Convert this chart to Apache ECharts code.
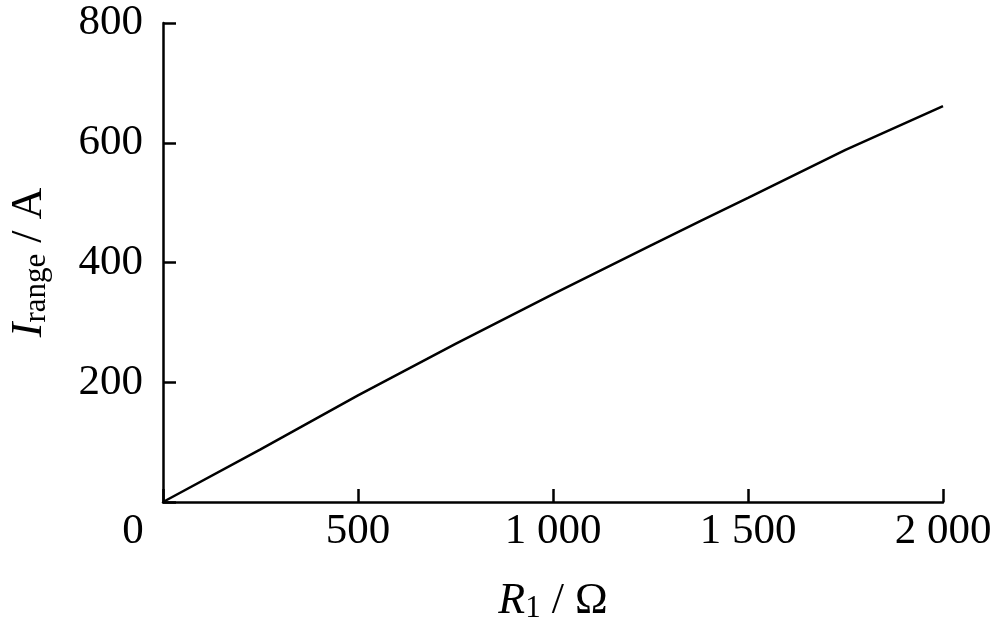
<!DOCTYPE html>
<html>
<head>
<meta charset="utf-8">
<script src="https://cdn.jsdelivr.net/npm/echarts@6/dist/echarts.min.js"></script>
<style>html,body{margin:0;padding:0;background:#fff}#c{width:1000px;height:635px}</style>
</head>
<body>
<div id="c"></div>
<script>
const resistance = [0, 250, 500, 750, 1000, 1250, 1380, 1500, 1750, 2000];
const currentRange = [0, 88, 178, 264, 347, 428, 470, 508, 588, 661];
const xTicks = [0, 500, 1000, 1500, 2000];
const yTicks = [0, 200, 400, 600, 800];

const FONT = '"Liberation Serif", "DejaVu Serif", serif';
const chart = echarts.init(document.getElementById('c'), null, {renderer: 'canvas'});
const fmtThousands = v => {
  const s = String(v);
  return s.length > 3 ? s.slice(0, s.length - 3) + ' ' + s.slice(-3) : s;
};
chart.setOption({
  backgroundColor: '#fff',
  animation: false,
  grid: {left: 163, right: 57, top: 23, bottom: 133, containLabel: false, outerBoundsMode: 'none'},
  xAxis: {
    type: 'value', min: xTicks[0], max: xTicks[xTicks.length - 1], interval: 500,
    axisLine: {lineStyle: {color: '#000', width: 2.5}},
    axisTick: {inside: true, length: 13, lineStyle: {color: '#000', width: 2.5}},
    splitLine: {show: false},
    axisLabel: {
      color: '#000', fontFamily: FONT, fontSize: 43, margin: 8,
      formatter: v => v === 0 ? '{z|0}' : fmtThousands(v),
      rich: {z: {fontFamily: FONT, fontSize: 43, color: '#000', padding: [0, 60, 0, 0]}}
    },
    name: '{i|R}{s|1}{n| / Ω}', nameLocation: 'middle', nameGap: 77,
    nameTextStyle: {
      rich: {
        i: {fontFamily: FONT, fontSize: 44, fontStyle: 'italic', color: '#000'},
        s: {fontFamily: FONT, fontSize: 31, color: '#000', verticalAlign: 'bottom', padding: [14, 0, 0, 0]},
        n: {fontFamily: FONT, fontSize: 44, color: '#000'}
      }
    }
  },
  yAxis: {
    type: 'value', min: yTicks[0], max: yTicks[yTicks.length - 1], interval: 200,
    axisLine: {show: true, lineStyle: {color: '#000', width: 2.5}},
    axisTick: {show: true, inside: true, length: 13, lineStyle: {color: '#000', width: 2.5}},
    splitLine: {show: false},
    axisLabel: {
      color: '#000', fontFamily: FONT, fontSize: 43, margin: 20,
      formatter: v => v === 0 ? '' : String(v)
    },
    name: '{i|I}{s|range}{n| / A}', nameLocation: 'middle', nameGap: 111, nameRotate: 90,
    nameTextStyle: {
      rich: {
        i: {fontFamily: FONT, fontSize: 44, fontStyle: 'italic', color: '#000'},
        s: {fontFamily: FONT, fontSize: 31, color: '#000', verticalAlign: 'bottom', padding: [14, 0, 0, 0]},
        n: {fontFamily: FONT, fontSize: 44, color: '#000'}
      }
    }
  },
  series: [{
    type: 'line',
    data: resistance.map((r, i) => [r, currentRange[i]]),
    showSymbol: false, smooth: false,
    lineStyle: {color: '#000', width: 2.5}
  }]
});
</script>
</body>
</html>
